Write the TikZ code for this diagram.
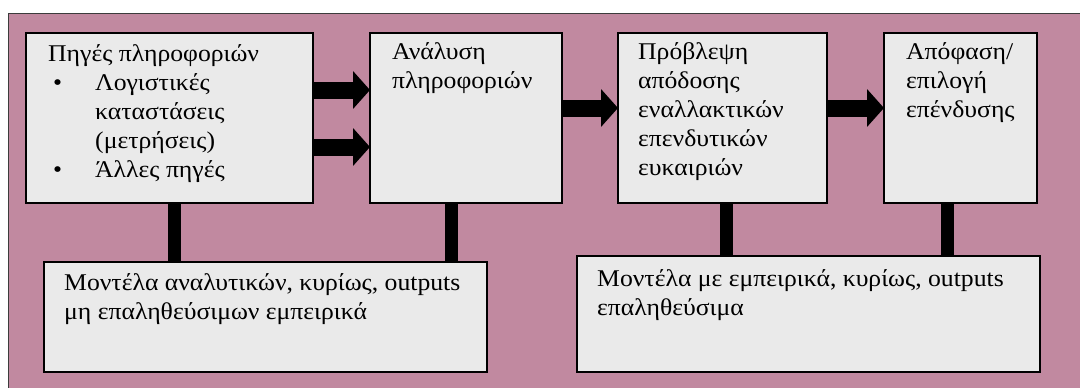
\documentclass[tikz,border=0pt]{standalone}
\usepackage{fontspec}
\setmainfont{Liberation Serif}[FakeStretch=1.07]
\usetikzlibrary{arrows.meta}
\definecolor{bgmag}{RGB}{193,137,160}
\definecolor{boxfill}{RGB}{234,234,234}
\definecolor{frame}{RGB}{60,60,60}
\tikzset{
  boxnode/.style={draw=black, line width=1.3pt, fill=boxfill, anchor=north west, inner sep=0pt, outer sep=0pt},
  txt/.style={anchor=north west, inner sep=0pt, align=left, font=\fontsize{24}{29}\selectfont, execute at begin node={\rule{0pt}{24pt}}},
  blockarrow/.style={line width=17pt, -{Triangle[width=37pt,length=17pt]}},
  vconn/.style={line width=13pt},
}
\newcommand{\bul}{\makebox[47pt][l]{\hspace{5pt}•}}
\begin{document}
\begin{tikzpicture}[x=1pt,y=-1pt]
\useasboundingbox (0,0) rectangle (1080,388);
\clip (0,0) rectangle (1080,388);
\fill[white] (0,0) rectangle (1080,388);
\draw[frame, fill=bgmag, line width=1pt] (8,13) rectangle (1100,400);
% top boxes
\node[boxnode, minimum width=287pt, minimum height=170pt] (b1) at (26,33) {};
\node[boxnode, minimum width=192pt, minimum height=170pt] (b2) at (370,33) {};
\node[boxnode, minimum width=209pt, minimum height=170pt] (b3) at (618,33) {};
\node[boxnode, minimum width=153pt, minimum height=170pt] (b4) at (884,33) {};
% bottom boxes
\node[boxnode, minimum width=443pt, minimum height=110pt] (m1) at (44,262) {};
\node[boxnode, minimum width=463pt, minimum height=116pt] (m2) at (577,256) {};
% texts
\node[txt] (t1) at ([shift={(22pt,-11pt)}]b1.north west) {Πηγές πληροφοριών\\\bul Λογιστικές\\\hspace*{47pt}καταστάσεις\\\hspace*{47pt}(μετρήσεις)\\\bul Άλλες πηγές};
\node[txt] (t2) at ([shift={(22pt,-9pt)}]b2.north west) {Ανάλυση\\πληροφοριών};
\node[txt] (t3) at ([shift={(20pt,-9pt)}]b3.north west) {Πρόβλεψη\\απόδοσης\\εναλλακτικών\\επενδυτικών\\ευκαιριών};
\node[txt] (t4) at ([shift={(22pt,-9pt)}]b4.north west) {Απόφαση/\\επιλογή\\επένδυσης};
\node[txt] (t5) at ([shift={(20pt,-11pt)}]m1.north west) {Μοντέλα αναλυτικών, κυρίως, outputs\\μη επαληθεύσιμων εμπειρικά};
\node[txt] (t6) at ([shift={(20pt,-13pt)}]m2.north west) {Μοντέλα με εμπειρικά, κυρίως, outputs\\επαληθεύσιμα};
% block arrows
\draw[blockarrow] ([yshift=-57pt]b1.north east) -- ([yshift=-57pt]b2.north west);
\draw[blockarrow] ([yshift=-114pt]b1.north east) -- ([yshift=-114pt]b2.north west);
\draw[blockarrow] ([yshift=-75pt]b2.north east) -- ([yshift=-75pt]b3.north west);
\draw[blockarrow] ([yshift=-75pt]b3.north east) -- ([yshift=-75pt]b4.north west);
% vertical connectors
\draw[vconn] ([xshift=4.5pt]b1.south) -- ([xshift=4.5pt]b1.south |- m1.north);
\draw[vconn] ([xshift=-15pt]b2.south) -- ([xshift=-15pt]b2.south |- m1.north);
\draw[vconn] ([xshift=3.5pt]b3.south) -- ([xshift=3.5pt]b3.south |- m2.north);
\draw[vconn] ([xshift=-13.5pt]b4.south) -- ([xshift=-13.5pt]b4.south |- m2.north);
\end{tikzpicture}
\end{document}
